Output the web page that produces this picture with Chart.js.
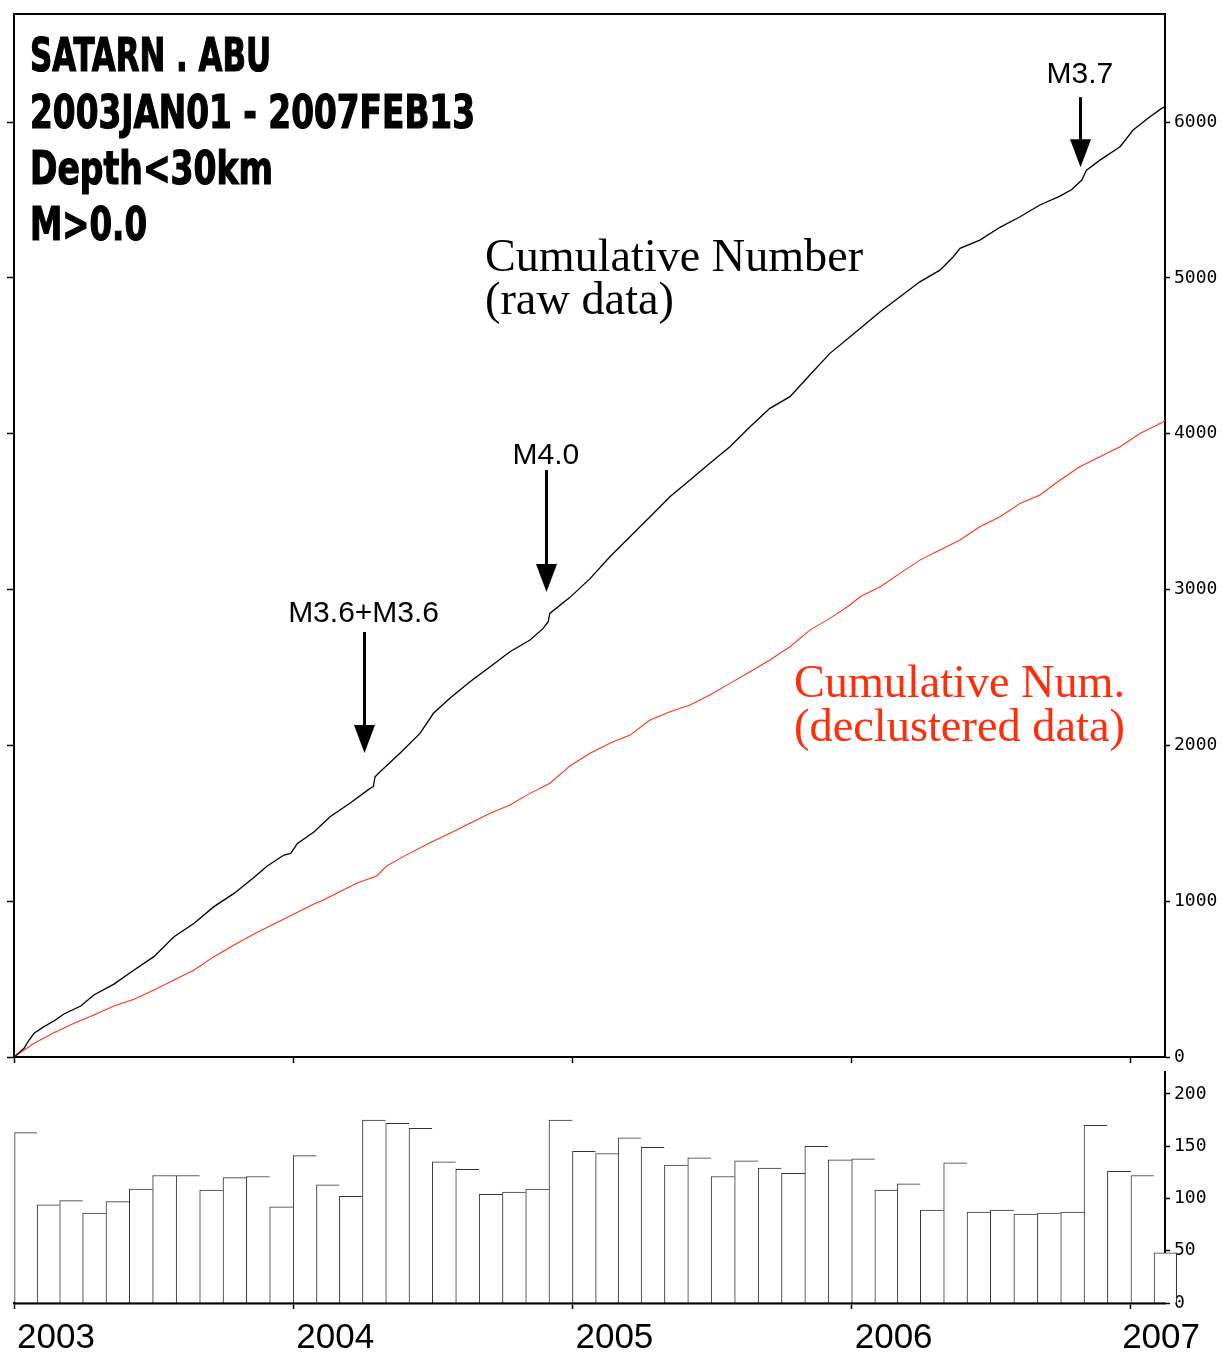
<!DOCTYPE html>
<html><head><meta charset="utf-8">
<script src="https://cdn.jsdelivr.net/npm/chart.js@4.4.1/dist/chart.umd.min.js"></script>
<style>
html,body{margin:0;padding:0;background:#fff;}
body{width:1223px;height:1353px;position:relative;overflow:hidden;}
#top{position:absolute;left:0;top:0;width:1223px;height:1075px;}
#bot{position:absolute;left:0;top:1058px;width:1223px;height:295px;}
.t{position:absolute;white-space:pre;line-height:1;transform-origin:0 0;margin:0;}
.title{font-family:"Liberation Sans Narrow","DejaVu Sans Condensed","Liberation Sans",sans-serif;font-weight:bold;font-size:46px;color:#000;-webkit-text-stroke:1.2px #000;}
.serif{font-family:"Liberation Serif","DejaVu Serif",serif;font-size:46px;color:#000;}
.red{color:#ff2d0a;}
.ev{font-family:"Liberation Sans",Arial,sans-serif;font-size:30px;color:#000;}
</style></head>
<body>
<div id="top"><canvas id="c1"></canvas></div>
<div id="bot"><canvas id="c2"></canvas></div>
<div class="t title" id="t1">SATARN . ABU</div>
<div class="t title" id="t2">2003JAN01 - 2007FEB13</div>
<div class="t title" id="t3">Depth&lt;30km</div>
<div class="t title" id="t4">M&gt;0.0</div>
<div class="t serif" id="s1">Cumulative Number</div>
<div class="t serif" id="s2">(raw data)</div>
<div class="t serif red" id="r1">Cumulative Num.</div>
<div class="t serif red" id="r2">(declustered data)</div>
<script>
// ---- data ----
const yearTicks = [2003, 2004, 2005, 2006, 2007];
const cumTicks = [0, 1000, 2000, 3000, 4000, 5000, 6000];
const histTicks = [0, 50, 100, 150, 200];
const xStart = 2003.0, xEnd = 2007.122;
const cumMax = 6694, histMax = 221;

const rawT = [2003.000, 2003.036, 2003.054, 2003.072, 2003.107, 2003.143, 2003.179, 2003.239, 2003.286, 2003.358, 2003.430, 2003.501, 2003.573, 2003.645, 2003.716, 2003.788, 2003.860, 2003.907, 2003.967, 2003.991, 2004.015, 2004.074, 2004.132, 2004.203, 2004.275, 2004.287, 2004.293, 2004.311, 2004.382, 2004.454, 2004.502, 2004.561, 2004.633, 2004.705, 2004.776, 2004.848, 2004.895, 2004.913, 2004.919, 2004.991, 2005.063, 2005.134, 2005.206, 2005.278, 2005.349, 2005.421, 2005.492, 2005.564, 2005.636, 2005.707, 2005.779, 2005.850, 2005.922, 2005.994, 2006.030, 2006.102, 2006.173, 2006.244, 2006.316, 2006.364, 2006.388, 2006.459, 2006.531, 2006.603, 2006.674, 2006.746, 2006.788, 2006.824, 2006.841, 2006.889, 2006.961, 2007.008, 2007.068, 2007.110, 2007.122];
const rawN = [0, 56, 109, 152, 195, 231, 276, 327, 398, 468, 558, 644, 772, 858, 965, 1050, 1153, 1226, 1296, 1307, 1371, 1444, 1542, 1628, 1724, 1735, 1799, 1831, 1949, 2077, 2206, 2302, 2408, 2505, 2601, 2676, 2751, 2794, 2847, 2950, 3070, 3211, 3339, 3467, 3596, 3703, 3810, 3917, 4045, 4163, 4238, 4377, 4516, 4622, 4676, 4783, 4879, 4975, 5050, 5136, 5190, 5243, 5325, 5393, 5468, 5525, 5568, 5628, 5692, 5756, 5842, 5949, 6034, 6088, 6100];

const declT = [2003.000, 2003.072, 2003.143, 2003.215, 2003.286, 2003.358, 2003.430, 2003.501, 2003.573, 2003.645, 2003.716, 2003.788, 2003.860, 2003.931, 2004.003, 2004.074, 2004.108, 2004.227, 2004.299, 2004.335, 2004.394, 2004.490, 2004.561, 2004.633, 2004.705, 2004.776, 2004.848, 2004.919, 2004.991, 2005.063, 2005.134, 2005.206, 2005.278, 2005.349, 2005.421, 2005.492, 2005.564, 2005.636, 2005.707, 2005.779, 2005.850, 2005.922, 2005.994, 2006.030, 2006.102, 2006.173, 2006.244, 2006.316, 2006.388, 2006.459, 2006.531, 2006.603, 2006.674, 2006.746, 2006.817, 2006.889, 2006.961, 2007.032, 2007.110, 2007.122];
const declN = [0, 88, 156, 216, 270, 327, 370, 430, 494, 558, 644, 719, 789, 854, 918, 982, 1007, 1115, 1162, 1226, 1286, 1375, 1436, 1500, 1564, 1617, 1692, 1757, 1868, 1949, 2013, 2066, 2163, 2216, 2259, 2323, 2398, 2473, 2548, 2633, 2740, 2815, 2901, 2954, 3018, 3104, 3189, 3254, 3318, 3403, 3467, 3553, 3607, 3703, 3788, 3852, 3917, 4002, 4070, 4085];

const months = ['2003-01','2003-02','2003-03','2003-04','2003-05','2003-06','2003-07','2003-08','2003-09','2003-10','2003-11','2003-12',
  '2004-01','2004-02','2004-03','2004-04','2004-05','2004-06','2004-07','2004-08','2004-09','2004-10','2004-11','2004-12',
  '2005-01','2005-02','2005-03','2005-04','2005-05','2005-06','2005-07','2005-08','2005-09','2005-10','2005-11','2005-12',
  '2006-01','2006-02','2006-03','2006-04','2006-05','2006-06','2006-07','2006-08','2006-09','2006-10','2006-11','2006-12',
  '2007-01','2007-02'];
const monthCounts = [163, 94, 98, 86, 97, 109, 122, 122, 108, 120, 121, 92,
  141, 113, 102, 175, 172, 167, 135, 128, 104, 106, 109, 175,
  145, 143, 158, 149, 132, 139, 121, 136, 129, 124, 150, 137,
  138, 108, 114, 89, 134, 87, 89, 85, 86, 87, 170, 126,
  122, 48];

const eventLabels = ['M3.6+M3.6', 'M4.0', 'M3.7'];
const eventT = [2004.252, 2004.905, 2006.817];
const eventTip = [1951, 2984, 5711];

// ---- helpers ----
function monthCenter(s) {
  const [y, m] = s.split('-').map(Number);
  const a = Date.UTC(y, m - 1, 1), b = Date.UTC(y, m, 1);
  const ys = Date.UTC(y, 0, 1), ye = Date.UTC(y + 1, 0, 1);
  return y + ((a + b) / 2 - ys) / (ye - ys);
}
const fixTicks = arr => scale => { scale.ticks = arr.map(v => ({ value: v })); };
const monoFont = { family: '"DejaVu Sans Mono", monospace', size: 18, lineHeight: 1 };
const plainLabel = v => String(v);
const arrowLen = [121, 122, 70];
const labelGap = [10, 6, 14];

const arrowPlugin = {
  id: 'arrows',
  afterDraw(chart) {
    const xs = chart.scales.x, ys = chart.scales.y, ctx = chart.ctx;
    ctx.save();
    ctx.fillStyle = '#000'; ctx.strokeStyle = '#000';
    eventT.forEach((t, i) => {
      const px = Math.round(xs.getPixelForValue(t)) + 0.5;
      const tip = ys.getPixelForValue(eventTip[i]);
      const head = 28, hw = 10.5;
      ctx.lineWidth = 3;
      ctx.beginPath(); ctx.moveTo(px, tip - arrowLen[i]); ctx.lineTo(px, tip - head + 2); ctx.stroke();
      ctx.beginPath(); ctx.moveTo(px - hw, tip - head); ctx.lineTo(px + hw, tip - head); ctx.lineTo(px, tip); ctx.closePath(); ctx.fill();
    });
    ctx.restore();
  }
};

const yearLabelPlugin = {
  id: 'yearLabels',
  afterDraw(chart) {
    const s = chart.scales.x, ctx = chart.ctx;
    ctx.save();
    ctx.font = '35px "Liberation Sans", Arial, sans-serif';
    ctx.fillStyle = '#000'; ctx.textAlign = 'left'; ctx.textBaseline = 'alphabetic';
    s.ticks.forEach(tk => {
      const txt = String(tk.value);
      const w = ctx.measureText(txt).width;
      let x = s.getPixelForValue(tk.value) + 3;
      x = Math.min(x, chart.width - 23 - w);
      ctx.fillText(txt, x, s.top + 45);
    });
    ctx.restore();
  }
};

const tickGrid = (len) => ({ display: true, offset: false, drawOnChartArea: false, drawTicks: true, tickLength: len, tickColor: '#000', tickWidth: 1.5, color: '#000' });

const chart1 = new Chart(document.getElementById('c1'), {
  type: 'line',
  data: { datasets: [
    { label: 'Cumulative Number (raw data)', data: rawT.map((t, i) => ({ x: t, y: rawN[i] })), borderColor: '#000', borderWidth: 1.3, pointRadius: 0, tension: 0, fill: false, xAxisID: 'x', yAxisID: 'y' },
    { label: 'Cumulative Num. (declustered data)', data: declT.map((t, i) => ({ x: t, y: declN[i] })), borderColor: '#ff3214', borderWidth: 1.1, pointRadius: 0, tension: 0, fill: false, xAxisID: 'x', yAxisID: 'y' }
  ]},
  options: {
    responsive: true, maintainAspectRatio: false, animation: false,
    layout: { padding: { top: 14, left: 0, right: 0, bottom: 0 } },
    plugins: { legend: { display: false }, tooltip: { enabled: false } },
    scales: {
      x: { type: 'linear', position: 'bottom', min: xStart, max: xEnd, afterBuildTicks: fixTicks(yearTicks), afterFit: s => { s.height = 18; },
           grid: tickGrid(6), border: { display: true, color: '#000', width: 2 }, ticks: { display: false } },
      xTop: { type: 'linear', position: 'top', min: xStart, max: xEnd, afterFit: s => { s.height = 0; },
           grid: { display: false }, border: { display: true, color: '#000', width: 2 }, ticks: { display: false } },
      yL: { type: 'linear', position: 'left', min: 0, max: cumMax, afterBuildTicks: fixTicks(cumTicks), afterFit: s => { s.width = 14; },
           grid: tickGrid(7), border: { display: true, color: '#000', width: 2 }, ticks: { display: false } },
      y: { type: 'linear', position: 'right', min: 0, max: cumMax, afterBuildTicks: fixTicks(cumTicks), afterFit: s => { s.width = 58; },
           grid: tickGrid(5), border: { display: true, color: '#000', width: 2 },
           ticks: { color: '#000', padding: 4, font: monoFont, callback: plainLabel } }
    }
  },
  plugins: [arrowPlugin]
});

const lastIdx = months.length - 1;
const chart2 = new Chart(document.getElementById('c2'), {
  type: 'bar',
  data: { datasets: [{
    label: 'Monthly number',
    data: months.map((m, i) => ({ x: monthCenter(m), y: monthCounts[i] })),
    backgroundColor: '#fff', borderColor: '#333',
    borderWidth: ctx => ctx.dataIndex === lastIdx ? { top: 1, left: 1, right: 1, bottom: 0 } : { top: 1, left: 1, right: 0, bottom: 0 },
    barThickness: 'flex', categoryPercentage: 1, barPercentage: 1, clip: false,
    xAxisID: 'x', yAxisID: 'y'
  }]},
  options: {
    responsive: true, maintainAspectRatio: false, animation: false,
    layout: { padding: { top: 14, left: 14, right: 0, bottom: 0 } },
    plugins: { legend: { display: false }, tooltip: { enabled: false } },
    scales: {
      x: { type: 'linear', position: 'bottom', offset: false, min: xStart, max: xEnd, afterBuildTicks: fixTicks(yearTicks), afterFit: s => { s.height = 50; },
           grid: tickGrid(6), border: { display: true, color: '#000', width: 2.5 }, ticks: { display: false } },
      y: { type: 'linear', position: 'right', min: 0, max: histMax, afterBuildTicks: fixTicks(histTicks), afterFit: s => { s.width = 58; },
           grid: tickGrid(5), border: { display: true, color: '#000', width: 2 },
           ticks: { color: '#000', padding: 4, font: monoFont, callback: plainLabel } }
    }
  },
  plugins: [yearLabelPlugin]
});

// ---- text placement ----
function placeText(el, x, baseline, width, center) {
  const mk = document.createElement('span');
  mk.style.cssText = 'display:inline-block;width:0;height:0;vertical-align:baseline';
  el.appendChild(mk);
  const w = el.getBoundingClientRect().width;
  const b = mk.offsetTop;
  const k = width ? width / w : 1;
  el.style.left = (center ? x - w / 2 : x) + 'px';
  el.style.top = (baseline - b) + 'px';
  if (width) el.style.transform = 'scaleX(' + k + ')';
}
placeText(document.getElementById('t1'), 30, 71, 241);
placeText(document.getElementById('t2'), 30, 128, 445);
placeText(document.getElementById('t3'), 30, 184, 243);
placeText(document.getElementById('t4'), 30, 240, 117);
placeText(document.getElementById('s1'), 485, 271, 378);
placeText(document.getElementById('s2'), 485, 314, 189);
placeText(document.getElementById('r1'), 794, 697, 331);
placeText(document.getElementById('r2'), 794, 741, 331);

const xs1 = chart1.scales.x, ys1 = chart1.scales.y;
eventLabels.forEach((lab, i) => {
  const d = document.createElement('div');
  d.className = 't ev';
  d.textContent = lab;
  document.body.appendChild(d);
  const px = xs1.getPixelForValue(eventT[i]);
  const tail = ys1.getPixelForValue(eventTip[i]) - arrowLen[i];
  placeText(d, px, tail - labelGap[i], 0, true);
});
</script>
</body></html>
